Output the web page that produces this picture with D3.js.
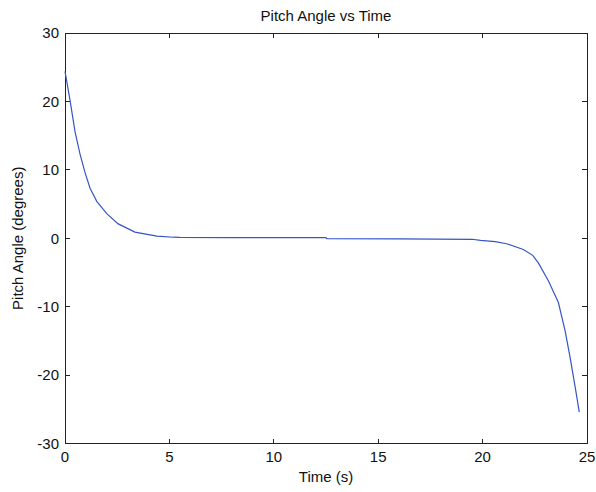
<!DOCTYPE html>
<html><head><meta charset="utf-8">
<script src="https://cdn.jsdelivr.net/npm/d3@7"></script>
<style>html,body{margin:0;padding:0;background:#fff;}svg{display:block;font-family:"Liberation Sans",Arial,sans-serif;}</style>
</head><body>
<svg id="c" width="596" height="492"></svg>
<script>
const timeValues = [0, 0.24, 0.48, 0.72, 0.96, 1.2, 1.52, 2.0, 2.55, 3.35, 4.4, 5.2, 5.5, 8.0, 12.5, 12.55, 16.0, 19.5, 19.9, 20.6, 21.15, 21.95, 22.4, 22.67, 23.15, 23.63, 23.95, 24.19, 24.43, 24.63];
const pitchValues = [24.4, 20.2, 15.6, 12.3, 9.6, 7.3, 5.4, 3.6, 2.1, 0.9, 0.3, 0.15, 0.12, 0.1, 0.08, -0.05, -0.08, -0.15, -0.3, -0.5, -0.8, -1.65, -2.5, -3.6, -6.2, -9.4, -13.5, -17.4, -21.7, -25.4];
const xTicks = [0, 5, 10, 15, 20, 25];
const yTicks = [-30, -20, -10, 0, 10, 20, 30];
const titleText = "Pitch Angle vs Time";
const xLabel = "Time (s)";
const yLabel = "Pitch Angle (degrees)";

const svg = d3.select("#c");
const L = 65, R = 587, T = 33, B = 443.5;
const x = d3.scaleLinear().domain([0, 25]).range([L, R]);
const y = d3.scaleLinear().domain([-30, 30]).range([B, T]);
const fs = 15, axisCol = "#222", tl = 5;

// box
svg.append("rect").attr("x", L).attr("y", T).attr("width", R - L).attr("height", B - T)
  .attr("fill", "none").attr("stroke", axisCol).attr("stroke-width", 1).attr("shape-rendering", "crispEdges");

// ticks (inward, both sides)
const g = svg.append("g").attr("stroke", axisCol).attr("stroke-width", 1).attr("shape-rendering", "crispEdges");
xTicks.forEach(v => {
  g.append("line").attr("x1", x(v)).attr("x2", x(v)).attr("y1", B).attr("y2", B - tl);
  g.append("line").attr("x1", x(v)).attr("x2", x(v)).attr("y1", T).attr("y2", T + tl);
});
yTicks.forEach(v => {
  g.append("line").attr("x1", L).attr("x2", L + tl).attr("y1", y(v)).attr("y2", y(v));
  g.append("line").attr("x1", R).attr("x2", R - tl).attr("y1", y(v)).attr("y2", y(v));
});

// tick labels
svg.append("g").selectAll("text").data(xTicks).join("text")
  .attr("x", d => x(d)).attr("y", 462).attr("text-anchor", "middle")
  .attr("font-size", fs).attr("fill", "#111").text(d => d);
svg.append("g").selectAll("text").data(yTicks).join("text")
  .attr("x", 59).attr("y", d => y(d) + 5.3).attr("text-anchor", "end")
  .attr("font-size", fs).attr("fill", "#111").text(d => d);

// line
const line = d3.line().x((d, i) => x(timeValues[i])).y(d => y(d));
svg.append("path").datum(pitchValues).attr("d", line)
  .attr("fill", "none").attr("stroke", "#3556c4").attr("stroke-width", 1.2);

// titles
svg.append("text").attr("x", (L + R) / 2).attr("y", 21).attr("text-anchor", "middle")
  .attr("font-size", fs).attr("fill", "#111").text(titleText);
svg.append("text").attr("x", (L + R) / 2).attr("y", 482).attr("text-anchor", "middle")
  .attr("font-size", fs).attr("fill", "#111").text(xLabel);
svg.append("text").attr("transform", `translate(23,${(T + B) / 2}) rotate(-90)`).attr("text-anchor", "middle")
  .attr("font-size", fs).attr("fill", "#111").text(yLabel);
</script>
</body></html>
